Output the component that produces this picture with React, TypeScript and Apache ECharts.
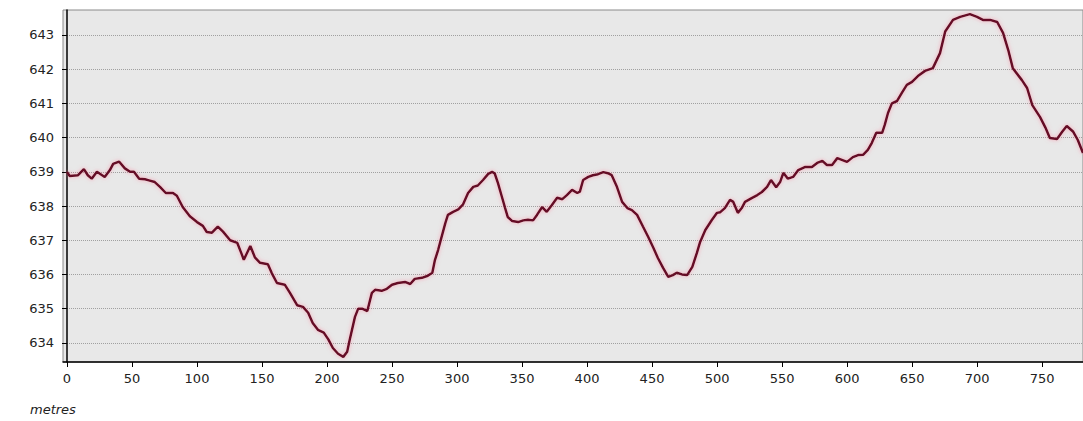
import React, { useEffect, useRef } from "react";
import * as echarts from "echarts";

// distance along the route (metres)
const distances: number[] = [
  0, 2, 8.5, 13, 16, 19, 23, 27, 29, 33,
  35.5, 40, 44.5, 48.5, 51.5, 55.5, 60, 63, 67.5, 71.5,
  76, 81.5, 84.5, 89, 94.5, 100, 104.5, 107.5, 111.5, 116,
  120, 125.5, 131, 134, 136, 141, 144.5, 148.5, 154.5, 157.5,
  161.5, 167.5, 171.5, 177, 181.5, 185.5, 189, 193, 197.5, 201,
  204.5, 208.5, 212.5, 215.5, 217.5, 221.5, 224, 227, 231, 234.5,
  237, 242, 246, 250, 254.5, 260, 264, 267.5, 273, 277.5,
  281, 283, 285.5, 288.5, 291, 293, 297, 301, 304.5, 308.5,
  312.5, 316, 320, 324, 327, 329, 331.5, 334.5, 337, 339,
  342.5, 347, 351, 354.5, 358.5, 361.5, 365.5, 369, 373, 377,
  381, 384.5, 388.5, 392.5, 394.5, 397, 401, 404.5, 408.5, 412.5,
  416, 419, 423, 427, 431, 434.5, 438.5, 443, 447, 451,
  454.5, 458.5, 462.5, 466, 469, 473, 477, 481, 484.5, 487,
  491, 496, 500, 502.5, 506, 510, 512.5, 516, 519, 521.5,
  527, 531, 534.5, 538.5, 541.5, 545.5, 548.5, 551, 554.5, 558.5,
  562.5, 567.5, 573, 577, 581, 584.5, 588.5, 592.5, 596, 600,
  604.5, 608.5, 612.5, 616, 619, 622.5, 627, 629, 631.5, 634.5,
  638.5, 642.5, 646, 650, 654.5, 660, 666, 671.5, 675.5, 681.5,
  687, 694.5, 700, 704.5, 710, 715.5, 720, 724, 727.5, 734.5,
  738.5, 742.5, 748.5, 752.5, 756, 761.5, 765.5, 769, 774, 777.5,
  781.5,
];

// elevation (m)
const elevations: number[] = [
  639.0, 638.88, 638.9, 639.08, 638.9, 638.8, 639.0, 638.9, 638.85, 639.05,
  639.23, 639.3, 639.1, 639.0, 639.0, 638.8, 638.78, 638.75, 638.7, 638.56,
  638.38, 638.38, 638.3, 637.97, 637.7, 637.53, 637.42, 637.24, 637.22, 637.4,
  637.25, 637.0, 636.92, 636.63, 636.43, 636.83, 636.5, 636.34, 636.3, 636.04,
  635.75, 635.7, 635.46, 635.1, 635.05, 634.88, 634.58, 634.38, 634.3, 634.1,
  633.85, 633.68, 633.59, 633.74, 634.1, 634.76, 635.0, 635.0, 634.93, 635.46,
  635.55, 635.52, 635.58, 635.7, 635.75, 635.78, 635.72, 635.87, 635.9, 635.96,
  636.05, 636.42, 636.72, 637.15, 637.5, 637.74, 637.83, 637.9, 638.04, 638.38,
  638.56, 638.6, 638.76, 638.94, 639.0, 638.95, 638.67, 638.27, 637.94, 637.68,
  637.56, 637.53, 637.58, 637.6, 637.58, 637.74, 637.97, 637.83, 638.03, 638.24,
  638.2, 638.32, 638.47, 638.38, 638.42, 638.76, 638.85, 638.9, 638.93, 638.99,
  638.96, 638.9, 638.56, 638.12, 637.94, 637.88, 637.74, 637.4, 637.1, 636.78,
  636.48, 636.19, 635.93, 635.98, 636.05, 636.0, 635.98, 636.22, 636.63, 636.95,
  637.3, 637.59, 637.8, 637.82, 637.94, 638.18, 638.12, 637.8, 637.94, 638.12,
  638.24, 638.32, 638.41, 638.56, 638.76, 638.55, 638.7, 638.97, 638.8, 638.85,
  639.05, 639.14, 639.14, 639.26, 639.32, 639.2, 639.2, 639.4, 639.35, 639.29,
  639.43, 639.49, 639.5, 639.64, 639.84, 640.14, 640.14, 640.37, 640.72, 641.0,
  641.07, 641.33, 641.54, 641.63, 641.8, 641.95, 642.03, 642.47, 643.1, 643.44,
  643.53, 643.61, 643.53, 643.44, 643.44, 643.38, 643.06, 642.56, 642.03, 641.68,
  641.45, 640.95, 640.6, 640.3, 639.99, 639.96, 640.17, 640.34, 640.17, 639.93,
  639.55,
];

const xTickValues: number[] = [0, 50, 100, 150, 200, 250, 300, 350, 400, 450, 500, 550, 600, 650, 700, 750];
const yTickValues: number[] = [634, 635, 636, 637, 638, 639, 640, 641, 642, 643];
const xAxisName = "metres";

const FONT = "DejaVu Sans";

export default function App() {
  const ref = useRef<HTMLDivElement>(null);

  useEffect(() => {
    if (!ref.current) return;
    const chart = echarts.init(ref.current, undefined, { renderer: "svg" });
    const data = distances.map((d, i) => [d, elevations[i]]);
    chart.setOption({
      animation: false,
      backgroundColor: "#ffffff",
      grid: {
        left: 63,
        right: -1,
        top: 10,
        bottom: 59,
        show: true,
        backgroundColor: "#e8e8e8",
        borderColor: "#8a8a8a",
        borderWidth: 1,
      },
      xAxis: {
        type: "value",
        min: -3.08,
        max: 781.5,
        axisLine: { show: true, onZero: false, lineStyle: { color: "#000", width: 1.5 } },
        axisTick: {
          show: true,
          length: 5,
          customValues: xTickValues,
          lineStyle: { color: "#000", width: 1 },
        },
        axisLabel: {
          customValues: xTickValues,
          fontSize: 13,
          color: "#222",
          fontFamily: FONT,
          margin: 10,
        },
        splitLine: { show: false },
      },
      yAxis: {
        type: "value",
        min: 633.44,
        max: 643.73,
        axisLine: { show: true, lineStyle: { color: "#000", width: 1.5 } },
        axisTick: {
          show: true,
          length: 5,
          customValues: yTickValues,
          lineStyle: { color: "#000", width: 1 },
        },
        axisLabel: {
          customValues: yTickValues,
          fontSize: 13,
          color: "#222",
          fontFamily: FONT,
          margin: 9,
        },
        splitLine: {
          show: true,
          lineStyle: { color: "#a0a0a0", width: 1, type: [1, 1] },
        },
      },
      graphic: [
        {
          type: "text",
          left: 30,
          top: 403,
          style: {
            text: xAxisName,
            fontSize: 13,
            fontStyle: "italic",
            fontFamily: FONT,
            fill: "#222",
          },
        },
      ],
      series: [
        {
          type: "line",
          data,
          showSymbol: false,
          symbol: "none",
          clip: true,
          lineStyle: {
            color: "#650d27",
            width: 2.5,
            shadowColor: "rgba(255,110,140,0.55)",
            shadowBlur: 4,
          },
        },
      ],
    });
    return () => chart.dispose();
  }, []);

  return (
    <div
      ref={ref}
      style={{ position: "fixed", left: 0, top: 0, width: 1083, height: 421 }}
    />
  );
}
